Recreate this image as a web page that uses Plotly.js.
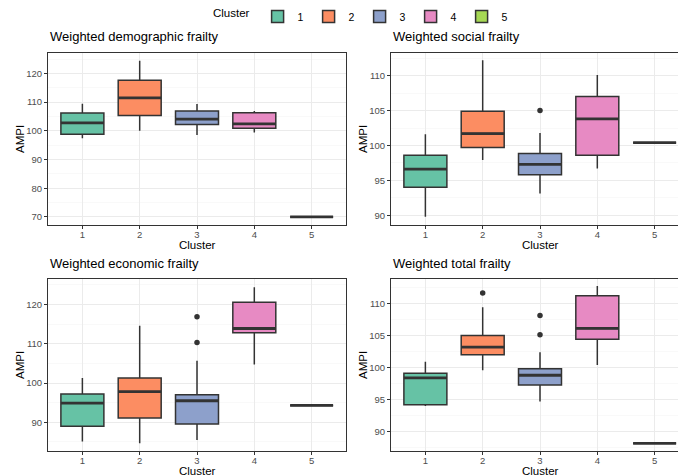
<!DOCTYPE html>
<html>
<head>
<meta charset="utf-8">
<script src="https://cdn.plot.ly/plotly-3.0.1.min.js"></script>
<style>
html,body{margin:0;padding:0;overflow:hidden;background:#fff;}
#chart{width:692px;height:476px;}
</style>
</head>
<body>
<div id="chart"></div>
<script>
// ---- data ----
const clusters = [1, 2, 3, 4, 5];
const clusterLabels = ["1", "2", "3", "4", "5"];
const panelTitles = ["Weighted demographic frailty", "Weighted social frailty",
                     "Weighted economic frailty", "Weighted total frailty"];

const demoLower  = [97.4, 100.0, 98.5, 99.4, 70.0];
const demoQ1     = [98.8, 105.3, 102.2, 100.9, 70.0];
const demoMedian = [102.8, 111.5, 104.1, 102.4, 70.0];
const demoQ3     = [106.2, 117.6, 106.9, 106.3, 70.0];
const demoUpper  = [109.4, 124.4, 109.3, 106.9, 70.0];
const demoOutX = [];
const demoOutY = [];

const socLower  = [89.8, 97.9, 93.1, 96.7, 100.4];
const socQ1     = [94.0, 99.7, 95.8, 98.6, 100.4];
const socMedian = [96.6, 101.7, 97.3, 103.8, 100.4];
const socQ3     = [98.6, 104.9, 98.85, 107.0, 100.4];
const socUpper  = [101.6, 112.2, 101.8, 110.1, 100.4];
const socOutX = [3];
const socOutY = [105.0];

const ecoLower  = [85.1, 84.7, 85.5, 104.7, 94.3];
const ecoQ1     = [89.0, 91.1, 89.6, 112.8, 94.3];
const ecoMedian = [94.9, 97.8, 95.5, 113.9, 94.3];
const ecoQ3     = [97.2, 101.3, 97.0, 120.6, 94.3];
const ecoUpper  = [101.3, 114.6, 105.7, 124.4, 94.3];
const ecoOutX = [3, 3];
const ecoOutY = [116.9, 110.3];

const totLower  = [94.0, 99.6, 94.7, 100.4, 88.2];
const totQ1     = [94.2, 102.0, 97.3, 104.4, 88.2];
const totMedian = [98.4, 103.2, 98.8, 106.1, 88.2];
const totQ3     = [99.1, 105.0, 99.8, 111.2, 88.2];
const totUpper  = [100.9, 109.4, 102.4, 112.7, 88.2];
const totOutX = [2, 3, 3];
const totOutY = [111.6, 108.1, 105.1];

// ---- styling ----
const fills = ["#66C2A5", "#FC8D62", "#8DA0CB", "#E78AC3", "#A6D854"];
const edge = "#333333";
const boxWidth = 0.75;
const W = 692, H = 476;

const panels = [
  {lo: demoLower, q1: demoQ1, med: demoMedian, q3: demoQ3, hi: demoUpper, ox: demoOutX, oy: demoOutY,
   range: [67.2, 127.1], dtick: 10},
  {lo: socLower, q1: socQ1, med: socMedian, q3: socQ3, hi: socUpper, ox: socOutX, oy: socOutY,
   range: [88.6, 113.25], dtick: 5},
  {lo: ecoLower, q1: ecoQ1, med: ecoMedian, q3: ecoQ3, hi: ecoUpper, ox: ecoOutX, oy: ecoOutY,
   range: [82.7, 126.5], dtick: 10},
  {lo: totLower, q1: totQ1, med: totMedian, q3: totQ3, hi: totUpper, ox: totOutX, oy: totOutY,
   range: [87.0, 113.8], dtick: 5}
];

// pixel boxes of the plot areas
const xPix = [[48, 346], [391, 689]];
const yPix = [[53, 225], [279, 451]];
const xDom = xPix.map(d => [d[0] / W, d[1] / W]);
const yDom = yPix.map(d => [1 - d[1] / H, 1 - d[0] / H]);
const ampiX = [20, 363];

const traces = [];
const layout = {
  width: W, height: H,
  margin: {l: 0, r: 0, t: 0, b: 0},
  paper_bgcolor: "#fff", plot_bgcolor: "#fff",
  font: {family: "Liberation Sans, Arial, sans-serif", color: "#000"},
  showlegend: true,
  legend: {
    orientation: "h", x: 362 / W, xanchor: "center", y: 1 - 2 / H, yanchor: "top",
    font: {size: 10.5, color: "#000"},
    title: {text: "Cluster", side: "left", font: {size: 11.5, color: "#000"}},
    itemwidth: 30, tracegroupgap: 0, bgcolor: "rgba(0,0,0,0)"
  },
  annotations: [],
  hovermode: false
};

panels.forEach((p, i) => {
  const col = i % 2, row = Math.floor(i / 2);
  const n = i + 1;
  const xa = n === 1 ? "x" : "x" + n;
  const ya = n === 1 ? "y" : "y" + n;

  clusters.forEach((c, k) => {
    traces.push({
      type: "box", x: [c], q1: [p.q1[k]], median: [p.med[k]], q3: [p.q3[k]],
      lowerfence: [p.lo[k]], upperfence: [p.hi[k]],
      width: boxWidth, whiskerwidth: 0,
      fillcolor: fills[k], line: {color: edge, width: 1.5},
      name: clusterLabels[k], legendgroup: clusterLabels[k], showlegend: i === 0,
      xaxis: xa, yaxis: ya, hoverinfo: "skip"
    });
    // thicker median bar, like ggplot's fatten
    traces.push({
      type: "scatter", mode: "lines",
      x: [c - boxWidth / 2, c + boxWidth / 2], y: [p.med[k], p.med[k]],
      line: {color: edge, width: 2.8}, showlegend: false, hoverinfo: "skip",
      xaxis: xa, yaxis: ya
    });
  });
  if (p.ox.length) {
    traces.push({
      type: "scatter", mode: "markers", x: p.ox, y: p.oy,
      marker: {color: edge, size: 5.5}, showlegend: false, hoverinfo: "skip",
      xaxis: xa, yaxis: ya
    });
  }

  const axisCommon = {
    showline: true, mirror: true, linecolor: edge, linewidth: 1,
    ticks: "outside", ticklen: 3, tickcolor: edge, tickwidth: 1,
    tickfont: {size: 9.5, color: "#4D4D4D"},
    gridcolor: "#EBEBEB", gridwidth: 1, zeroline: false, fixedrange: true
  };
  layout["xaxis" + (n === 1 ? "" : n)] = Object.assign({}, axisCommon, {
    domain: xDom[col], anchor: ya, range: [0.4, 5.6],
    tickmode: "array", tickvals: clusters, ticktext: clusterLabels,
    ticklabelstandoff: -2
  });
  layout["yaxis" + (n === 1 ? "" : n)] = Object.assign({}, axisCommon, {
    domain: yDom[row], anchor: xa, range: p.range, dtick: p.dtick,
    minor: {dtick: p.dtick / 2, showgrid: true, gridcolor: "#F5F5F5", gridwidth: 0.6}
  });
  // panel title
  layout.annotations.push({
    text: panelTitles[i], xref: "paper", yref: "paper",
    x: xDom[col][0], xanchor: "left", y: 1 - (yPix[row][0] - 16) / H, yanchor: "middle",
    showarrow: false, font: {size: 13, color: "#000"}
  });
  // x-axis title
  layout.annotations.push({
    text: "Cluster", xref: xa + " domain", yref: "paper",
    x: 0.5, xanchor: "center", y: 1 - (yPix[row][1] + 20) / H, yanchor: "middle",
    showarrow: false, font: {size: 11.5, color: "#000"}
  });
  // y-axis title
  layout.annotations.push({
    text: "AMPI", xref: "paper", yref: ya + " domain",
    x: ampiX[col] / W, xanchor: "center", y: 0.5, yanchor: "middle", textangle: -90,
    showarrow: false, font: {size: 11.5, color: "#000"}
  });
});

Plotly.newPlot("chart", traces, layout, {displayModeBar: false, staticPlot: true});
</script>
</body>
</html>
